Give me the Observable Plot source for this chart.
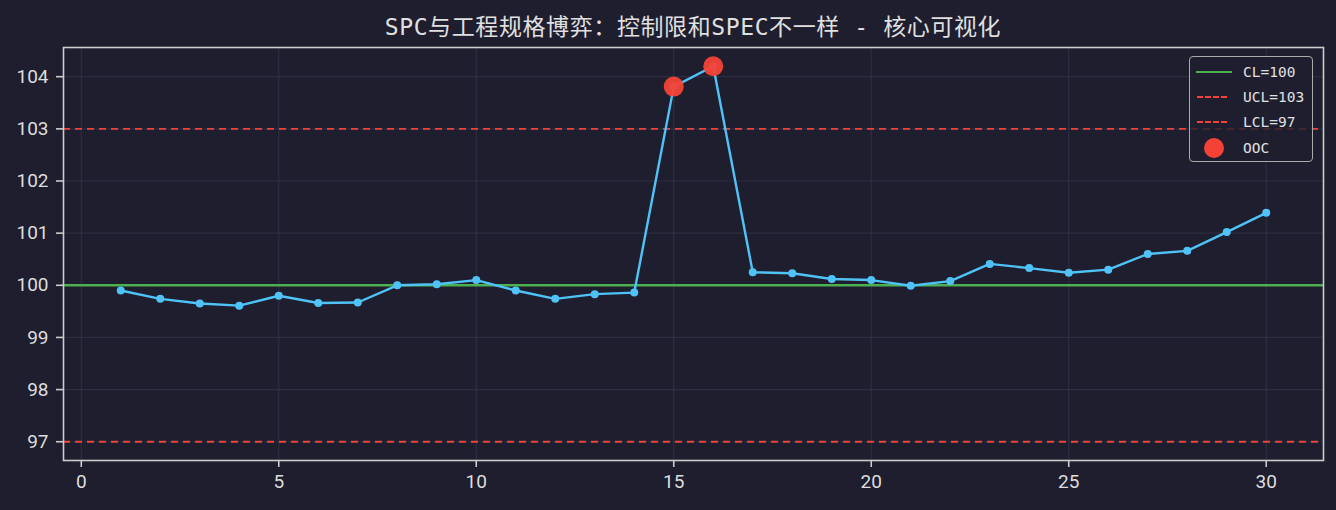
<!DOCTYPE html>
<html><head><meta charset="utf-8">
<script src="https://cdn.jsdelivr.net/npm/d3@7"></script>
<script src="https://cdn.jsdelivr.net/npm/@observablehq/plot@0.6"></script>
<style>
html,body{margin:0;padding:0;background:#1e1e2e;}
#wrap{position:relative;width:1336px;height:510px;overflow:hidden;}
#title{position:absolute;left:63px;width:1260px;top:14px;text-align:center;color:#e0e0e0;font-family:"DejaVu Sans Mono","Noto Sans CJK SC",monospace;font-size:23px;line-height:27px;white-space:nowrap;letter-spacing:0.6px;}
#chart{position:absolute;left:0;top:0;}
#legend{position:absolute;left:1189px;top:56px;width:124px;height:106px;border:1.5px solid #aaaaaa;border-radius:4px;background:rgba(30,30,46,0.8);box-sizing:border-box;font-family:"DejaVu Sans Mono",monospace;font-size:14.5px;color:#e0e0e0;}
.li{position:absolute;left:0;height:20px;width:100%;}
.li span{position:absolute;left:53px;top:0;line-height:20px;}
.sw{position:absolute;left:6px;top:9px;width:36px;height:0;}
</style></head>
<body><div id="wrap"><div id="chart"></div><div id="title">SPC与工程规格博弈：控制限和SPEC不一样 - 核心可视化</div>
<div id="legend">
<div class="li" style="top:5px"><div class="sw" style="border-top:2.5px solid #4caf50"></div><span>CL=100</span></div>
<div class="li" style="top:30px"><div class="sw" style="border-top:2px dashed #f44336;width:30px;left:7px"></div><span>UCL=103</span></div>
<div class="li" style="top:55px"><div class="sw" style="border-top:2px dashed #f44336;width:30px;left:7px"></div><span>LCL=97</span></div>
<div class="li" style="top:81px"><div style="position:absolute;left:14px;top:0px;width:20px;height:20px;border-radius:50%;background:#f44336"></div><span>OOC</span></div>
</div></div>
<script>
const samples = d3.range(1, 31);
const values = [99.90,99.74,99.65,99.61,99.80,99.66,99.67,100.00,100.02,100.10,
                99.90,99.74,99.83,99.86,103.81,104.20,100.25,100.23,100.12,100.10,
                99.99,100.08,100.41,100.33,100.24,100.30,100.60,100.66,101.02,101.39];
const CL = 100, UCL = 103, LCL = 97;
const oocIdx = [15, 16];
const xTicks = [0,5,10,15,20,25,30];
const yTicks = [97,98,99,100,101,102,103,104];

const data = samples.map((s,i)=>({x:s, y:values[i]}));
const ooc = data.filter(d=>oocIdx.includes(d.x));

const plot = Plot.plot({
  width: 1336, height: 510,
  marginLeft: 63, marginRight: 13, marginTop: 47, marginBottom: 50,
  style: {background: "transparent", color: "#e0e0e0", fontFamily: "Roboto, DejaVu Sans, sans-serif", fontSize: "19px"},
  x: {domain: [-0.45, 31.45], ticks: xTicks},
  y: {domain: [96.64, 104.56], ticks: yTicks},
  marks: [
    Plot.ruleX(xTicks, {stroke: "#3a3a50", strokeOpacity: 0.55, strokeWidth: 1.2}),
    Plot.ruleY(yTicks, {stroke: "#3a3a50", strokeOpacity: 0.55, strokeWidth: 1.2}),
    Plot.ruleY([CL], {stroke: "#4caf50", strokeWidth: 2.5}),
    Plot.ruleY([UCL, LCL], {stroke: "#f44336", strokeWidth: 1.8, strokeDasharray: "7,5"}),
    Plot.line(data, {x: "x", y: "y", stroke: "#4fc3f7", strokeWidth: 2.4}),
    Plot.dot(data, {x: "x", y: "y", fill: "#4fc3f7", r: 4}),
    Plot.dot(ooc, {x: "x", y: "y", fill: "#f44336", r: 10, fillOpacity: 0.95}),
    Plot.axisX({ticks: xTicks, tickSize: 7, stroke: "#cccccc", strokeWidth: 1.6, fill: "#dddddd", tickPadding: 7, fontSize: 19, label: null}),
    Plot.axisY({ticks: yTicks, tickSize: 7, stroke: "#cccccc", strokeWidth: 1.6, fill: "#dddddd", tickPadding: 8, fontSize: 19, label: null}),
    Plot.frame({stroke: "#cccccc", strokeWidth: 1.6})
  ]
});
document.getElementById("chart").appendChild(plot);
</script></body></html>
